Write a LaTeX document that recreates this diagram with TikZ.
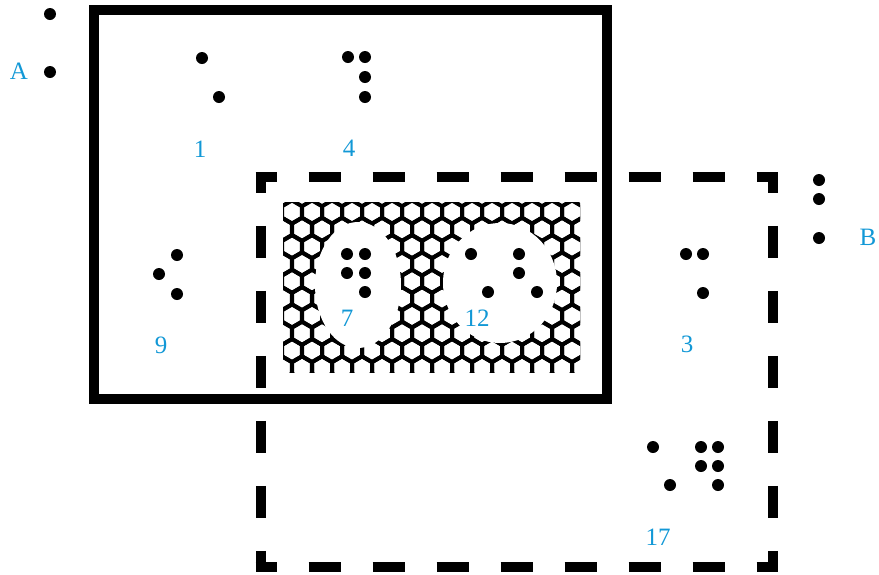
\documentclass[tikz,border=0pt]{standalone}
\usepackage{fontspec}
\setmainfont{Liberation Serif}
\usepackage{tikz}
\usetikzlibrary{calc}

\definecolor{setblue}{RGB}{18,152,214}

\begin{document}
\begin{tikzpicture}[x=1pt, y=-1pt,
    elem/.style={circle, fill=black, inner sep=0pt, minimum size=12pt},
    lbl/.style={text=setblue, inner sep=0pt, font=\fontsize{25}{28}\selectfont},
    solidset/.style={line width=10pt},
    hside/.style={line width=10pt, dash pattern=on 32pt off 32pt, dash phase=11pt},
    vside/.style={line width=10pt, dash pattern=on 32.5pt off 32.5pt, dash phase=11.25pt},
    hexline/.style={line width=4pt, line join=miter}]
    \useasboundingbox (0,0) rectangle (879,574);

    % intersection, hexagon pattern
    \begin{scope}
        \clip (283,202) rectangle (580,372);
        \foreach \r in {0,...,10} {
            \foreach \c in {-1,...,15} {
                \pgfmathsetmacro{\cx}{292 + 20*\c - 10*mod(\r,2)}
                \pgfmathsetmacro{\cy}{212 + 17.32*\r}
                \draw[hexline] (\cx,\cy) +(30:11.55) -- +(90:11.55) -- +(150:11.55)
                    -- +(210:11.55) -- +(270:11.55) -- +(330:11.55) -- cycle;
            }
        }
        \fill[white] (358,285) ellipse [x radius=43, y radius=63];
        \fill[white] (500,283) ellipse [x radius=57, y radius=60];
    \end{scope}

    % solid set
    \draw[solidset] (94,10) rectangle (607,398.5);

    % dashed set, one side at a time so every corner gets its L
    \coordinate (tl) at (255.5,177);
    \coordinate (tr) at (778,177);
    \coordinate (br) at (778,566.5);
    \coordinate (bl) at (255.5,566.5);
    \coordinate (tlv) at (260.5,172);
    \coordinate (blv) at (260.5,571.5);
    \coordinate (trv) at (773,172);
    \coordinate (brv) at (773,571.5);
    \draw[hside] (tl) -- (tr);
    \draw[hside] (bl) -- (br);
    \draw[vside] (tlv) -- (blv);
    \draw[vside] (trv) -- (brv);

    % A
    \node[elem] (a1) at (50,14) {};
    \node[elem] (a2) at (50,72) {};
    \node[lbl] (lA) at (19,71) {A};

    % B
    \node[elem] (b1) at (819,180) {};
    \node[elem] (b2) at (819,199) {};
    \node[elem] (b3) at (819,238) {};
    \node[lbl] (lB) at (868,237) {B};

    % 1
    \node[elem] (p1) at (202,58) {};
    \node[elem] (p2) at (219,97) {};
    \node[lbl] (l1) at (200,149) {1};

    % 4
    \node[elem] (q1) at (348,57) {};
    \node[elem] (q2) at (365,57) {};
    \node[elem] (q3) at (365,77) {};
    \node[elem] (q4) at (365,97) {};
    \node[lbl] (l4) at (349,148) {4};

    % 9
    \node[elem] (n1) at (177,255) {};
    \node[elem] (n2) at (159,274) {};
    \node[elem] (n3) at (177,294) {};
    \node[lbl] (l9) at (161,345) {9};

    % 7
    \node[elem] (s1) at (347,254) {};
    \node[elem] (s2) at (365,254) {};
    \node[elem] (s3) at (347,273) {};
    \node[elem] (s4) at (365,273) {};
    \node[elem] (s5) at (365,292) {};
    \node[lbl] (l7) at (347,318) {7};

    % 12
    \node[elem] (t1) at (471,254) {};
    \node[elem] (t2) at (519,254) {};
    \node[elem] (t3) at (519,273) {};
    \node[elem] (t4) at (488,292) {};
    \node[elem] (t5) at (537,292) {};
    \node[lbl] (l12) at (477,318) {12};

    % 3
    \node[elem] (h1) at (686,254) {};
    \node[elem] (h2) at (703,254) {};
    \node[elem] (h3) at (703,293) {};
    \node[lbl] (l3) at (687,344) {3};

    % 17
    \node[elem] (k1) at (653,447) {};
    \node[elem] (k2) at (701,447) {};
    \node[elem] (k3) at (718,447) {};
    \node[elem] (k4) at (701,466) {};
    \node[elem] (k5) at (718,466) {};
    \node[elem] (k6) at (670,485) {};
    \node[elem] (k7) at (718,485) {};
    \node[lbl] (l17) at (658,537) {17};
\end{tikzpicture}
\end{document}
